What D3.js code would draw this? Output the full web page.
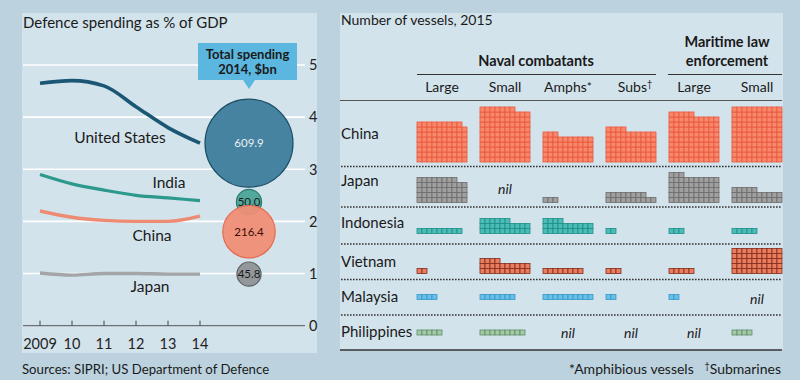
<!DOCTYPE html>
<html><head><meta charset="utf-8">
<script src="https://cdn.jsdelivr.net/npm/d3@7"></script>
<style>
html,body{margin:0;padding:0;background:#bcd3df;}
svg{display:block;font-family:Lato,"Open Sans",sans-serif;}
</style></head>
<body>
<svg id="c" width="800" height="380"></svg>
<script>
// ---------- data: left chart ----------
const years = [2009, 2010, 2011, 2012, 2013, 2014];
const yearLabels = ["2009", "10", "11", "12", "13", "14"];
const yTicks = [0, 1, 2, 3, 4, 5];
const spendCountries = ["United States", "India", "China", "Japan"];
const usShare = [4.65, 4.7, 4.6, 4.2, 3.8, 3.5];
const indiaShare = [2.9, 2.72, 2.6, 2.5, 2.45, 2.4];
const chinaShare = [2.2, 2.08, 2.02, 2.0, 2.0, 2.1];
const japanShare = [1.01, 0.97, 1.0, 1.0, 0.99, 0.99];
const spending2014 = [609.9, 50.0, 216.4, 45.8];
const spendingLabels = ["609.9", "50.0", "216.4", "45.8"];

// ---------- data: right chart ----------
const vesselTypes = ["navLarge", "navSmall", "amphs", "subs", "mleLarge", "mleSmall"];
const vesselLabels = ["Large", "Small", "Amphs", "Subs", "Large", "Small"];
const vesselMarks = ["", "", "*", "\u2020", "", ""];
const nations = ["China", "Japan", "Indonesia", "Vietnam", "Malaysia", "Philippines"];
const chinaVessels = [79, 107, 53, 64, 95, 110];
const japanVessels = [48, 0, 3, 18, 53, 25];
const indonesiaVessels = [9, 26, 24, 2, 3, 5];
const vietnamVessels = [2, 24, 8, 3, 5, 50];
const malaysiaVessels = [4, 7, 10, 2, 2, 0];
const philippinesVessels = [5, 9, 0, 0, 0, 4];
const vesselCounts = [chinaVessels, japanVessels, indonesiaVessels, vietnamVessels, malaysiaVessels, philippinesVessels];

// ---------- styles / layout ----------
const BG = "#bcd3df", PANEL = "#d3e3ec", TXT = "#1a1a1a";
const lineColors = ["#1b5774", "#2b9a8d", "#ee8b73", "#a3a5a7"];
const lineWidths = [3.6, 3.2, 3.4, 3.4];
const bubbleFill = ["#3e7d9c", "#4aa497", "#f08e76", "#8f9497"];
const bubbleStroke = ["#1d4e66", "#2b7a6f", "#e56b50", "#5b6063"];
const bubbleText = ["#e9f1f5", "#1a1a1a", "#3a0d05", "#1a1a1a"];
const nationFill = ["#f7886c", "#a0a0a0", "#4bbdb6", "#ec7c5e", "#66c0ea", "#a3c9a6"];
const nationStroke = ["#e9583c", "#6b6b6b", "#1f8d88", "#7e2d1d", "#3996c6", "#5c8c66"];

const svg = d3.select("#c");
svg.append("rect").attr("width", 800).attr("height", 380).attr("fill", BG);

// ================= LEFT PANEL =================
svg.append("rect").attr("x", 22).attr("y", 13).attr("width", 295).attr("height", 340).attr("fill", PANEL);
svg.append("text").attr("x", 23).attr("y", 28).attr("font-size", 15).attr("fill", TXT)
  .text("Defence spending as % of GDP");

const x = d3.scaleLinear().domain([2009, 2014]).range([40, 200]);
const y = d3.scaleLinear().domain([0, 5]).range([325.7, 65]);

// gridlines
svg.append("g").selectAll("line").data(yTicks.filter(d => d > 0)).join("line")
  .attr("x1", 23).attr("x2", 305).attr("y1", d => y(d)).attr("y2", d => y(d))
  .attr("stroke", "#ffffff").attr("stroke-width", 1.6);
svg.append("line").attr("x1", 23).attr("x2", 305).attr("y1", y(0)).attr("y2", y(0))
  .attr("stroke", "#555").attr("stroke-width", 1);
// y tick labels
svg.append("g").selectAll("text").data(yTicks).join("text")
  .attr("x", 309).attr("y", d => y(d)).attr("dy", "0.36em")
  .attr("font-size", 14.5).attr("fill", "#222").text(d => d);
// x ticks
svg.append("g").selectAll("line").data(years).join("line")
  .attr("x1", d => x(d)).attr("x2", d => x(d)).attr("y1", y(0) - 5).attr("y2", y(0))
  .attr("stroke", "#444").attr("stroke-width", 1);
svg.append("g").selectAll("text").data(years).join("text")
  .attr("x", d => x(d)).attr("y", 349).attr("text-anchor", "middle")
  .attr("font-size", 14.5).attr("fill", "#222").text((d, i) => yearLabels[i]);

// lines
const shares = [usShare, indiaShare, chinaShare, japanShare];
const lineGen = d3.line().x((d, i) => x(years[i])).y(d => y(d)).curve(d3.curveMonotoneX);
svg.append("g").selectAll("path").data(shares).join("path")
  .attr("d", d => lineGen(d)).attr("fill", "none")
  .attr("stroke", (d, i) => lineColors[i]).attr("stroke-width", (d, i) => lineWidths[i]);

// country labels
const labelPos = [[120, 143], [169, 188], [152, 240.5], [150, 291.5]];
svg.append("g").selectAll("text").data(spendCountries).join("text")
  .attr("x", (d, i) => labelPos[i][0]).attr("y", (d, i) => labelPos[i][1])
  .attr("text-anchor", "middle").attr("font-size", 15.5).attr("fill", TXT).text(d => d);

// bubbles
const r = d3.scaleSqrt().domain([0, 609.9]).range([0, 44]);
const bubbleX = x(2014) + 49;
const bubbleDy = [0, 1.5, 15.5, 0];
const bub = svg.append("g").selectAll("g").data(spending2014).join("g")
  .attr("transform", (d, i) => `translate(${bubbleX},${y(shares[i][5]) + bubbleDy[i]})`);
bub.append("circle").attr("r", d => r(d))
  .attr("fill", (d, i) => bubbleFill[i]).attr("fill-opacity", 0.95)
  .attr("stroke", (d, i) => bubbleStroke[i]).attr("stroke-width", 1.2);
bub.append("text").attr("text-anchor", "middle").attr("dy", "0.36em")
  .attr("font-size", 11.5).attr("fill", (d, i) => bubbleText[i]).text((d, i) => spendingLabels[i]);

// callout
const co = svg.append("g");
co.append("rect").attr("x", 198).attr("y", 43).attr("width", 99).attr("height", 37).attr("fill", "#5bb7df");
co.append("path").attr("d", "M243,80 L255,80 L249,89 Z").attr("fill", "#5bb7df");
co.append("text").attr("x", 247.5).attr("y", 59).attr("text-anchor", "middle")
  .attr("font-size", 13).attr("font-weight", "bold").attr("fill", TXT).text("Total spending");
co.append("text").attr("x", 247.5).attr("y", 74).attr("text-anchor", "middle")
  .attr("font-size", 13).attr("font-weight", "bold").attr("fill", TXT).text("2014, $bn");

svg.append("text").attr("x", 22).attr("y", 374).attr("font-size", 13.2).attr("fill", TXT)
  .text("Sources: SIPRI; US Department of Defence");

// ================= RIGHT PANEL =================
svg.append("rect").attr("x", 340).attr("y", 13).attr("width", 443).attr("height", 337).attr("fill", PANEL);
svg.append("text").attr("x", 341).attr("y", 25).attr("font-size", 14).attr("fill", TXT)
  .text("Number of vessels, 2015");

const band = d3.scaleBand().domain(vesselTypes).range([417, 782]).paddingInner(0.206).paddingOuter(0);
const cell = d3.scaleLinear().domain([0, 10]).range([0, 50]);

// group headers
svg.append("text").attr("x", 536).attr("y", 66).attr("text-anchor", "middle")
  .attr("font-size", 14.5).attr("font-weight", "bold").attr("fill", TXT).text("Naval combatants");
svg.append("line").attr("x1", band("navLarge")).attr("x2", band("subs") + band.bandwidth())
  .attr("y1", 74.5).attr("y2", 74.5).attr("stroke", "#333").attr("stroke-width", 1.2);
svg.append("text").attr("x", 727).attr("y", 47).attr("text-anchor", "middle")
  .attr("font-size", 14.5).attr("font-weight", "bold").attr("fill", TXT).text("Maritime law");
svg.append("text").attr("x", 727).attr("y", 66).attr("text-anchor", "middle")
  .attr("font-size", 14.5).attr("font-weight", "bold").attr("fill", TXT).text("enforcement");
svg.append("line").attr("x1", band("mleLarge") - 1).attr("x2", 782)
  .attr("y1", 74.5).attr("y2", 74.5).attr("stroke", "#333").attr("stroke-width", 1.2);

// column labels
const colLab = svg.append("g").selectAll("text").data(vesselTypes).join("text")
  .attr("x", d => band(d) + band.bandwidth() / 2 + (d === "subs" ? 4 : 0)).attr("y", 92)
  .attr("text-anchor", "middle").attr("font-size", 14).attr("fill", TXT);
colLab.append("tspan").text((d, i) => vesselLabels[i]);
colLab.append("tspan").attr("font-size", (d, i) => vesselMarks[i] === "\u2020" ? 9 : 12)
  .attr("dy", (d, i) => vesselMarks[i] === "\u2020" ? -5 : -1).text((d, i) => vesselMarks[i]);

svg.append("line").attr("x1", 340).attr("x2", 782).attr("y1", 100.5).attr("y2", 100.5)
  .attr("stroke", "#555").attr("stroke-width", 1);

// rows
const rowBottom = [162, 202.5, 233.5, 273.5, 299.5, 335];
const rowLabelY = [139, 186, 228, 267, 302, 337];
const separators = [166.5, 207, 244, 279.5, 315];
const nilY = [0, 194, 0, 0, 304, 338];

svg.append("g").selectAll("line").data(separators).join("line")
  .attr("x1", 341).attr("x2", 782).attr("y1", d => d).attr("y2", d => d)
  .attr("stroke", "#333").attr("stroke-width", 1.3).attr("stroke-dasharray", "1.6,1.4");
svg.append("line").attr("x1", 340).attr("x2", 782).attr("y1", 350).attr("y2", 350)
  .attr("stroke", "#333").attr("stroke-width", 1.3);

svg.append("g").selectAll("text").data(nations).join("text")
  .attr("x", 341).attr("y", (d, i) => rowLabelY[i]).attr("font-size", 15).attr("fill", TXT).text(d => d);

nations.forEach((n, ni) => {
  const g = svg.append("g");
  vesselTypes.forEach((v, vi) => {
    const count = vesselCounts[ni][vi];
    if (count === 0) {
      g.append("text").attr("x", band(v) + band.bandwidth() / 2).attr("y", nilY[ni])
        .attr("text-anchor", "middle").attr("font-style", "italic").attr("font-size", 14)
        .attr("fill", TXT).text("nil");
      return;
    }
    const cells = d3.range(count);
    g.append("g").selectAll("rect").data(cells).join("rect")
      .attr("x", i => band(v) + cell(i % 10))
      .attr("y", i => rowBottom[ni] - cell(Math.floor(i / 10) + 1))
      .attr("width", cell(1)).attr("height", cell(1))
      .attr("fill", nationFill[ni]).attr("stroke", nationStroke[ni]).attr("stroke-width", 0.8);
  });
});

// footnote
const fn = svg.append("text").attr("x", 781).attr("y", 374).attr("text-anchor", "end")
  .attr("font-size", 14).attr("fill", TXT);
fn.append("tspan").text("*Amphibious vessels\u00a0\u00a0\u00a0");
fn.append("tspan").attr("font-size", 9).attr("dy", -5).text("\u2020");
fn.append("tspan").attr("dy", 5).text("Submarines");
</script>
</body></html>
